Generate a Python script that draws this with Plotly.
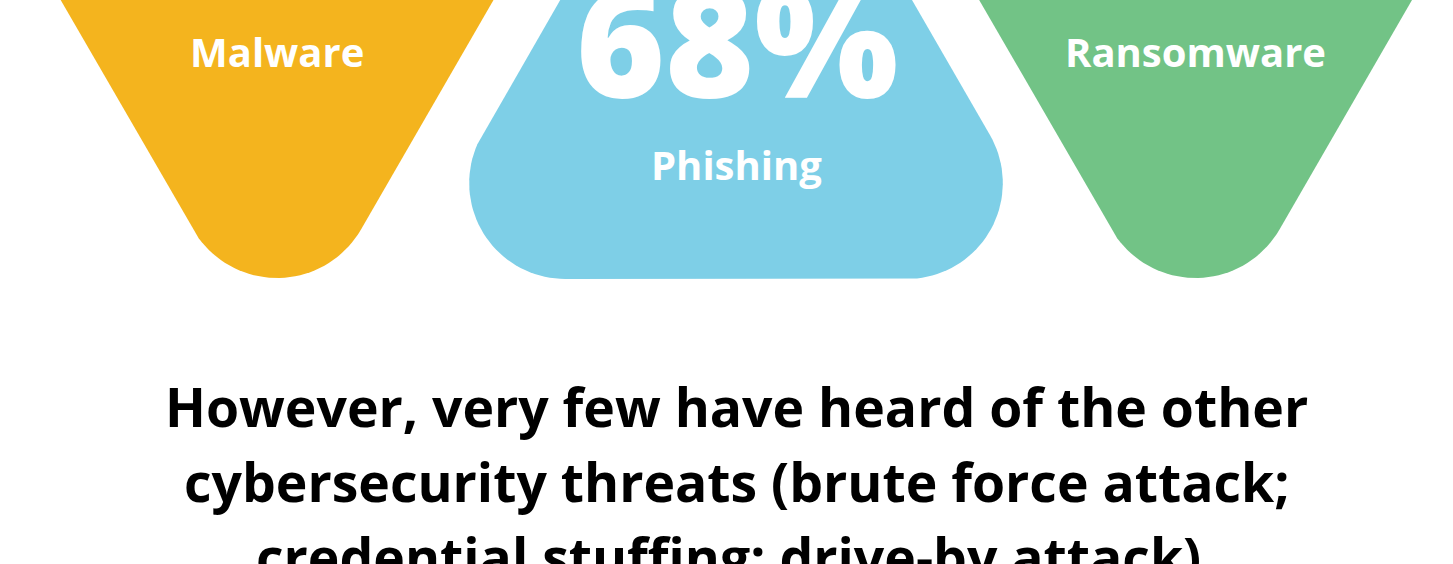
import numpy as np
import plotly.graph_objects as go

# ---- data ----
categories = ["Malware", "Phishing", "Ransomware"]
value_labels = ["", "68%", ""]
colors = ["#F4B41E", "#7ECFE7", "#72C386"]
message_lines = [
    "However, very few have heard of the other",
    "cybersecurity threats (brute force attack;",
    "credential stuffing; drive-by attack).",
]

W, H = 1453, 564
T30 = np.tan(np.radians(30))
C30 = np.cos(np.radians(30))


def arc(cx, cy, r, a0, a1, n=40):
    t = np.radians(np.linspace(a0, a1, n))
    return list(cx + r * np.cos(t)), list(cy + r * np.sin(t))


def inverted_triangle(cx, half_top, r, ytop=-80):
    apex = half_top / T30
    cy = apex - 2 * r
    hw = half_top + (-ytop) * T30
    ax, ay = arc(cx, cy, r, 150, 30)
    xs = [cx - hw] + ax + [cx + hw, cx - hw]
    ys = [ytop] + ay + [ytop, ytop]
    return xs, ys


def trapezoid(cx, half_top, r, bottom, ytop=-80):
    cy = bottom - r
    xl_line = cx - half_top - cy * T30
    cxl = xl_line + r / C30
    cxr = 2 * cx - cxl
    hw = half_top - (-ytop) * T30
    lx, ly = arc(cxl, cy, r, 210, 90)
    rx, ry = arc(cxr, cy, r, 90, -30)
    xs = [cx - hw] + lx + rx + [cx + hw, cx - hw]
    ys = [ytop] + ly + ry + [ytop, ytop]
    return xs, ys


centers = [277, 736, 1195.5]
fig = go.Figure()
for i, cat in enumerate(categories):
    if cat == "Phishing":
        xs, ys = trapezoid(centers[i], 176, 96, 279)
    else:
        xs, ys = inverted_triangle(centers[i], 216.5, 97)
    fig.add_trace(go.Scatter(x=xs, y=ys, fill="toself", fillcolor=colors[i],
                             mode="lines", line=dict(width=0, color=colors[i]),
                             hoverinfo="skip", showlegend=False))

label_y = [51, 164, 51]
for i, cat in enumerate(categories):
    fig.add_annotation(x=centers[i], y=label_y[i], text=cat, showarrow=False,
                       xanchor="center", yanchor="middle",
                       font=dict(family="Open Sans", size=40, color="white", weight=700))
    if value_labels[i]:
        fig.add_annotation(x=centers[i] + 1, y=39, text=value_labels[i], showarrow=False,
                           xanchor="center", yanchor="middle",
                           font=dict(family="Open Sans", size=152, color="white", weight=800))

line_y = [406, 481, 556]
for ly, txt in zip(line_y, message_lines):
    fig.add_annotation(x=736, y=ly, text=txt, showarrow=False,
                       xanchor="center", yanchor="middle",
                       font=dict(family="Open Sans", size=53.5, color="black", weight=700))

fig.update_xaxes(range=[0, W], visible=False, fixedrange=True)
fig.update_yaxes(range=[H, 0], visible=False, fixedrange=True)
fig.update_layout(width=W, height=H, margin=dict(l=0, r=0, t=0, b=0),
                  plot_bgcolor="white", paper_bgcolor="white")

fig.write_html("out.html", config={"displayModeBar": False},
               post_script="document.body.style.margin='0';document.body.style.overflow='hidden';")
